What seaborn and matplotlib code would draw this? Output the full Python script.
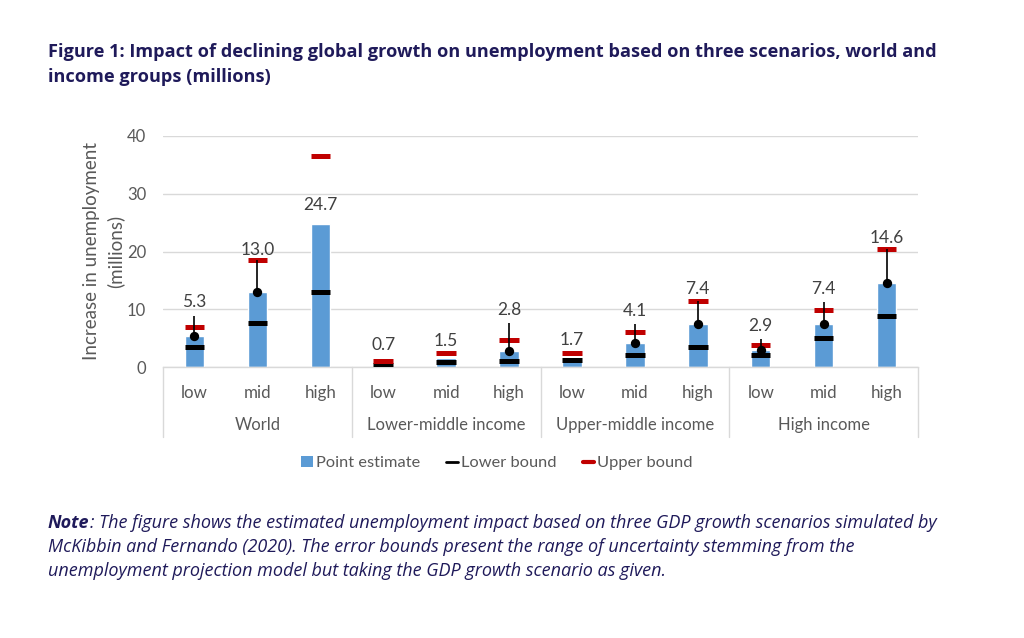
import numpy as np
import pandas as pd
import matplotlib
matplotlib.use("Agg")
import matplotlib.pyplot as plt
import matplotlib.transforms as mtransforms
from matplotlib.lines import Line2D
from matplotlib.patches import Patch
import seaborn as sns

# ---------------- data ----------------
groups = ["World", "Lower-middle income", "Upper-middle income", "High income"]
scenarios = ["low", "mid", "high"]
point_estimate = [5.3, 13.0, 24.7, 0.7, 1.5, 2.8, 1.7, 4.1, 7.4, 2.9, 7.4, 14.6]
lower_bound = [3.5, 7.7, 13.0, 0.4, 0.8, 1.0, 1.15, 2.1, 3.5, 2.1, 5.1, 8.9]
upper_bound = [7.0, 18.5, 36.6, 1.04, 2.4, 4.7, 2.5, 6.1, 11.4, 3.75, 9.9, 20.5]
# data-label leader line tops (NaN = no leader line / dot)
leader_top = [8.9, 18.5, np.nan, np.nan, np.nan, 7.7, np.nan, 7.4, 11.4, 4.85, 11.3, 20.5]
# data-label centre heights
label_y = [11.3, 20.3, 28.1, 3.8, 4.5, 9.9, 4.7, 9.7, 13.5, 7.1, 13.5, 22.3]
yticks = [0, 10, 20, 30, 40]

title_lines = [
    "Figure 1: Impact of declining global growth on unemployment based on three scenarios, world and",
    "income groups (millions)",
]
note_lines = [
    ": The figure shows the estimated unemployment impact based on three GDP growth scenarios simulated by",
    "McKibbin and Fernando (2020). The error bounds present the range of uncertainty stemming from the",
    "unemployment projection model but taking the GDP growth scenario as given.",
]

# ---------------- style ----------------
sns.set_theme(style="white")
plt.rcParams["font.family"] = ["Lato", "DejaVu Sans"]

BLUE = "#5B9BD5"
RED = "#C00000"
GRID = "#D9D9D9"
TXT = "#595959"
NAVY = "#1F1A5A"

W, H = 1024, 638
fig = plt.figure(figsize=(W / 100, H / 100), dpi=100)
ax = fig.add_axes([163 / W, (H - 367) / H, (918 - 163) / W, 231 / H])

keys = [f"{g}|{s}" for g in groups for s in scenarios]
df = pd.DataFrame({"key": keys, "value": point_estimate})
sns.barplot(data=df, x="key", y="value", color=BLUE, saturation=1,
            width=0.31, ax=ax, zorder=2)

x = np.arange(len(keys))
hw = 0.155
ax.hlines(lower_bound, x - hw, x + hw, colors="black", lw=3.6, zorder=3)
ax.hlines(upper_bound, x - hw, x + hw, colors=RED, lw=3.6, zorder=3)

lt = np.array(leader_top, dtype=float)
pe = np.array(point_estimate)
has = ~np.isnan(lt)
ax.vlines(x[has], pe[has], lt[has], colors="black", lw=1.2, zorder=4)
ax.scatter(x[has], pe[has], s=45, color="black", zorder=5, linewidths=0)

for xi, v, ly in zip(x, point_estimate, label_y):
    ax.text(xi, ly, f"{v:.1f}", ha="center", va="center", fontsize=12.5,
            color="#404040", zorder=6)

ax.set_xlim(-0.5, len(keys) - 0.5)
ax.set_ylim(0, 40)
ax.set_yticks(yticks)
ax.set_yticklabels([str(t) for t in yticks], color=TXT, fontsize=12)
ax.tick_params(axis="y", length=0, pad=12)
ax.yaxis.grid(True, color=GRID, lw=1)
ax.set_axisbelow(True)
for s in ["top", "right", "left"]:
    ax.spines[s].set_visible(False)
ax.spines["bottom"].set_color(GRID)
ax.spines["bottom"].set_linewidth(1)

ax.set_xticks(x)
ax.set_xticklabels(scenarios * len(groups), color=TXT, fontsize=12.2)
ax.tick_params(axis="x", length=0, pad=13)
ax.set_xlabel("")
ax.set_ylabel("Increase in unemployment\n(millions)", color=TXT, fontsize=13.5,
              labelpad=2, linespacing=1.45)

trans = mtransforms.blended_transform_factory(ax.transData, ax.transAxes)
for gi, g in enumerate(groups):
    ax.text(gi * 3 + 1, -58 / 231, g, transform=trans, ha="center", va="center",
            fontsize=12, color=TXT)
for b in np.arange(len(groups) + 1) * 3 - 0.5:
    ax.plot([b, b], [0, -70 / 231], transform=trans, color=GRID, lw=1,
            clip_on=False)

handles = [
    Patch(facecolor=BLUE, edgecolor="none"),
    Line2D([0], [0], color="black", lw=2),
    Line2D([0], [0], color=RED, lw=3),
]
fig.legend(handles, ["Point estimate", "Lower bound", "Upper bound"],
           loc="center", bbox_to_anchor=(497 / W, 1 - 463 / H), ncol=3,
           frameon=False, fontsize=11.8, labelcolor=TXT, handlelength=0.7,
           handleheight=0.7, handletextpad=0.2, columnspacing=1.6)

# title
for i, line in enumerate(title_lines):
    fig.text(48 / W, 1 - (52 + 25 * i) / H, line, ha="left", va="center",
             fontsize=13.1, fontweight="bold", color=NAVY,
             family=["Open Sans", "DejaVu Sans"])

# note
note_head = fig.text(48 / W, 1 - 523 / H, "Note", ha="left", va="center",
                     fontsize=13, fontweight="bold", style="italic", color=NAVY,
                     family=["Open Sans", "DejaVu Sans"])
ax.annotate(note_lines[0], xy=(1, 0), xycoords=note_head, ha="left", va="bottom",
            fontsize=13, style="italic", color=NAVY,
            family=["Open Sans", "DejaVu Sans"], annotation_clip=False)
for i, line in enumerate(note_lines[1:]):
    fig.text(48 / W, 1 - (547 + 24.5 * i) / H, line, ha="left", va="center",
             fontsize=13, style="italic", color=NAVY,
             family=["Open Sans", "DejaVu Sans"])

fig.savefig("out.png", dpi=100, facecolor="white")
